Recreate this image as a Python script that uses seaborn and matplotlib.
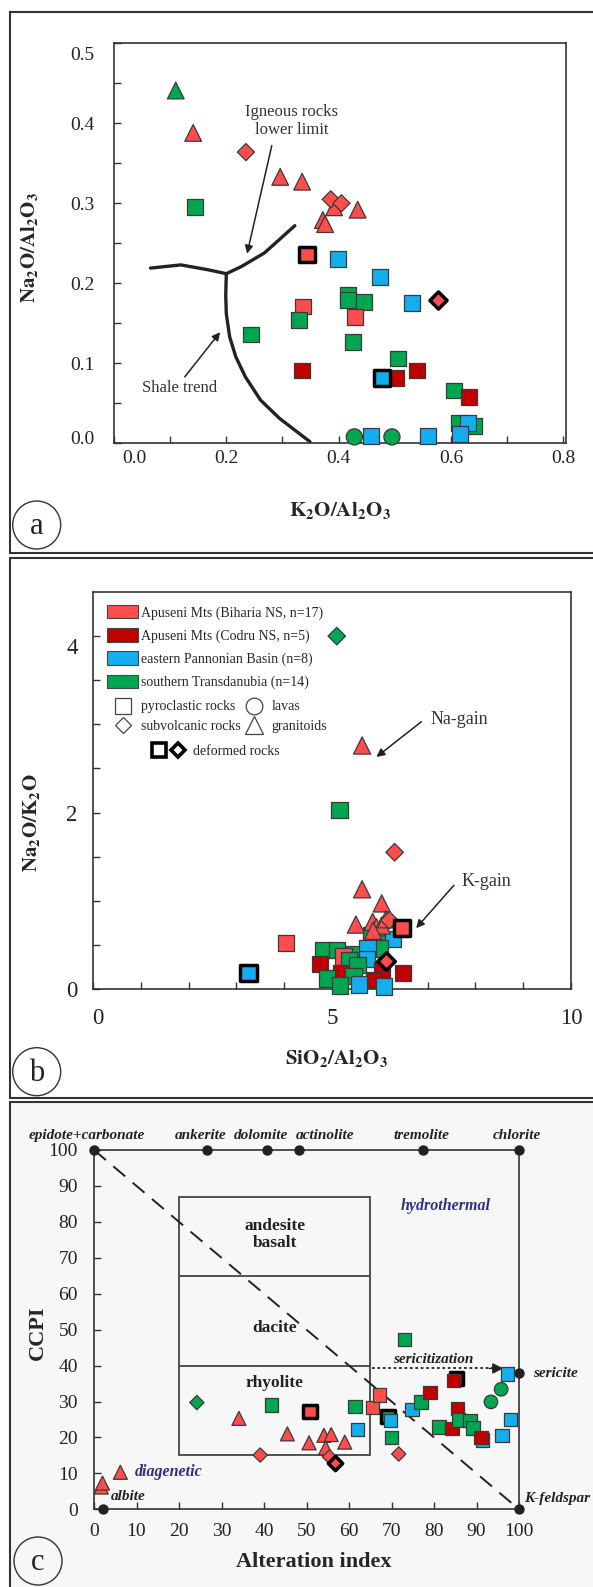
import pandas as pd
import matplotlib
matplotlib.use("Agg")
import matplotlib.pyplot as plt
import matplotlib.transforms as mtrans
import seaborn as sns
from matplotlib.patches import Rectangle, Ellipse, Patch
from matplotlib.lines import Line2D
from matplotlib.legend_handler import HandlerTuple

sns.set_style("ticks")
plt.rcParams["font.family"] = ["Liberation Serif", "DejaVu Serif"]
plt.rcParams["mathtext.fontset"] = "stix"

# groups: B = Biharia, C = Codru, P = Pannonian, T = Transdanubia
group_codes = ["B", "C", "P", "T"]
group_labels = ["Apuseni Mts (Biharia NS, n=17)", "Apuseni Mts (Codru NS, n=5)",
                "eastern Pannonian Basin (n=8)", "southern Transdanubia (n=14)"]
group_colors = ["#ff4d4d", "#c00000", "#14aeef", "#00a650"]
palette = dict(zip(group_codes, group_colors))

# rock types: p = pyroclastic, l = lava, v = subvolcanic, g = granitoid
marker_of = {"p": "s", "l": "o", "v": "D", "g": "^"}
size_of = {"p": 132, "l": 135, "v": 76, "g": 145}

# ---------------- panel a : Na2O/Al2O3 vs K2O/Al2O3 ----------------
a_k2o = [0.110, 0.141, 0.235, 0.296, 0.335, 0.392, 0.386, 0.405, 0.434, 0.372, 0.376,
         0.145, 0.343, 0.399, 0.474, 0.416, 0.416, 0.446, 0.337, 0.530, 0.577,
         0.329, 0.429, 0.244, 0.426, 0.506, 0.335, 0.540, 0.502, 0.478,
         0.606, 0.633, 0.614, 0.641, 0.631, 0.616, 0.458, 0.559, 0.428, 0.495]
a_na2o = [0.441, 0.388, 0.364, 0.333, 0.327, 0.295, 0.305, 0.300, 0.292, 0.279, 0.274,
          0.295, 0.236, 0.230, 0.208, 0.185, 0.179, 0.177, 0.171, 0.175, 0.179,
          0.154, 0.158, 0.136, 0.127, 0.106, 0.091, 0.091, 0.082, 0.082,
          0.066, 0.058, 0.025, 0.022, 0.025, 0.012, 0.009, 0.009, 0.008, 0.008]
a_group = ["T", "B", "B", "B", "B", "B", "B", "B", "B", "B", "B",
           "T", "B", "P", "P", "T", "T", "T", "B", "P", "B",
           "T", "B", "T", "T", "T", "C", "C", "C", "P",
           "T", "C", "T", "T", "P", "P", "P", "P", "T", "T"]
a_rock = ["g", "g", "v", "g", "g", "g", "v", "v", "g", "g", "g",
          "p", "p", "p", "p", "p", "p", "p", "p", "p", "v",
          "p", "p", "p", "p", "p", "p", "p", "p", "p",
          "p", "p", "p", "p", "p", "p", "p", "p", "l", "l"]
a_def = [0] * 40
a_def[12] = a_def[20] = a_def[29] = 1

igneous_x = [0.065, 0.119, 0.167, 0.200, 0.227, 0.268, 0.322]
igneous_y = [0.219, 0.223, 0.217, 0.212, 0.221, 0.238, 0.272]
shale_x = [0.200, 0.199, 0.200, 0.206, 0.217, 0.234, 0.261, 0.295, 0.349]
shale_y = [0.212, 0.185, 0.162, 0.133, 0.108, 0.083, 0.054, 0.031, 0.002]

# ---------------- panel b : Na2O/K2O vs SiO2/Al2O3 ----------------
b_si = [5.10, 5.63, 5.16, 6.31, 5.63, 6.04, 5.50, 5.85, 5.93, 6.04, 6.13, 6.20, 5.86,
        4.04, 5.83, 5.96, 6.27, 6.46, 4.82, 5.10, 5.45, 6.00, 5.74, 5.24, 5.73, 5.36,
        4.75, 5.53, 6.13, 5.19, 6.04, 6.49, 5.45, 4.90, 5.88, 5.17, 5.57, 6.09, 3.25]
b_nak = [4.00, 2.76, 2.03, 1.55, 1.13, 0.97, 0.73, 0.76, 0.70, 0.72, 0.79, 0.78, 0.66,
         0.52, 0.61, 0.59, 0.57, 0.69, 0.44, 0.44, 0.40, 0.46, 0.46, 0.37, 0.34, 0.33,
         0.28, 0.27, 0.32, 0.18, 0.21, 0.18, 0.15, 0.12, 0.10, 0.04, 0.05, 0.03, 0.18]
b_group = ["T", "B", "T", "B", "B", "B", "B", "B", "B", "B", "B", "B", "B",
           "B", "T", "T", "P", "B", "T", "T", "T", "T", "P", "B", "P", "T",
           "C", "T", "B", "C", "C", "C", "T", "T", "C", "T", "P", "P", "P"]
b_rock = ["v", "g", "p", "v", "g", "g", "g", "g", "g", "g", "g", "v", "g",
          "p", "p", "p", "p", "p", "p", "p", "p", "p", "p", "p", "p", "p",
          "p", "p", "v", "p", "p", "p", "p", "p", "p", "p", "p", "p", "p"]
b_def = [0] * 39
b_def[17] = b_def[28] = b_def[38] = 1

# ---------------- panel c : CCPI vs alteration index ----------------
c_ai = [24.2, 34.1, 41.8, 50.8, 45.5, 50.6, 54.1, 55.8, 54.5, 59.0, 55.4, 39.1, 56.7,
        61.4, 62.0, 65.6, 67.2, 69.2, 69.8, 70.0, 71.7, 73.1, 74.8, 76.9, 79.1, 81.2,
        85.3, 84.6, 84.2, 85.6, 85.8, 88.5, 89.2, 91.4, 91.1, 96.0, 98.0, 97.3,
        93.4, 95.8, 1.7, 2.0, 6.2]
c_ccpi = [29.7, 25.3, 29.0, 27.2, 21.0, 18.5, 20.6, 20.8, 17.1, 18.7, 14.6, 15.1, 12.8,
          28.6, 22.3, 28.4, 31.8, 25.9, 24.8, 20.0, 15.4, 47.2, 27.7, 29.9, 32.5, 22.9,
          36.4, 35.8, 22.5, 28.1, 24.9, 24.8, 22.6, 19.3, 20.0, 20.6, 25.0, 37.7,
          29.9, 33.4, 6.2, 7.3, 10.3]
c_group = ["T", "B", "T", "B", "B", "B", "B", "B", "B", "B", "B", "B", "B",
           "T", "P", "B", "B", "T", "P", "T", "B", "T", "P", "T", "C", "T",
           "C", "C", "C", "C", "T", "T", "T", "P", "C", "P", "P", "P",
           "T", "T", "B", "B", "B"]
c_rock = ["v", "g", "p", "p", "g", "g", "g", "g", "g", "g", "v", "v", "v",
          "p", "p", "p", "p", "p", "p", "p", "v", "p", "p", "p", "p", "p",
          "p", "p", "p", "p", "p", "p", "p", "p", "p", "p", "p", "p",
          "l", "l", "g", "g", "g"]
c_def = [0] * 43
c_def[3] = c_def[12] = c_def[17] = c_def[26] = 1

field_x = [20, 65]
field_y = [15, 87]
field_splits = [40, 65]
field_names = ["andesite\nbasalt", "dacite", "rhyolite"]
field_name_y = [76.5, 50.5, 35.2]
trend_x = [0, 100]
trend_y = [100, 0]
top_minerals = ["epidote+carbonate", "ankerite", "dolomite", "actinolite", "tremolite", "chlorite"]
top_mineral_x = [0, 26.7, 40.7, 48.2, 77.5, 100]
top_label_x = [-1.8, 25.0, 39.3, 54.4, 77.1, 99.5]
end_x = [2.1, 100, 100]
end_y = [0, 0, 37.9]

# ---------------- figure ----------------
W, H = 593, 1587
fig = plt.figure(figsize=(W / 100, H / 100), dpi=100)
EDGE = "#333333"


def box(l, t, r, b):
    return [l / W, 1 - b / H, (r - l) / W, (b - t) / H]


def shift(lbl, dx, dy):
    lbl.set_transform(lbl.get_transform() +
                      mtrans.ScaledTranslation(dx / 100, -dy / 100, fig.dpi_scale_trans))


for t, b, fc in [(11.7, 553.3, "white"), (557.7, 1098.3, "white"), (1102.3, 1620, "#f7f7f7")]:
    fig.patches.append(Rectangle((9.5 / W, 1 - b / H), 1.2, (b - t) / H, transform=fig.transFigure,
                                 facecolor=fc, edgecolor=EDGE, lw=1.5, zorder=-1))

for letter, cx, cy in [("a", 36.7, 525), ("b", 36.7, 1071.7), ("c", 38, 1561)]:
    fig.patches.append(Ellipse((cx / W, 1 - cy / H), 48 / W, 48 / H, transform=fig.transFigure,
                               fill=False, edgecolor=EDGE, lw=1.0, zorder=5))
    fig.text(cx / W, 1 - (cy + 2) / H, letter, ha="center", va="center", fontsize=22, color="#222")


def draw_points(ax, df, k=1.0, def_sq_behind=False):
    layers = [(r, 0) for r in ["p", "l", "g", "v"]] + [(r, 1) for r in ["p", "l", "g", "v"]]
    if def_sq_behind:
        layers = [("p", 1)] + [lay for lay in layers if lay != ("p", 1)]
    for rock, d in layers:
        sub = df[(df["rock"] == rock) & (df["deformed"] == d)]
        if sub.empty:
            continue
        sns.scatterplot(data=sub, x="x", y="y", hue="group", palette=palette,
                        marker=marker_of[rock], s=size_of[rock] * k,
                        edgecolor="black" if d else "#3a3a3a", linewidth=2.5 if d else 0.9,
                        legend=False, ax=ax, clip_on=False, zorder=3)


def style_axes(ax, size, xpad, ypad):
    ax.set_facecolor("none")
    for sp in ax.spines.values():
        sp.set_visible(True)
        sp.set_color(EDGE)
        sp.set_linewidth(1.2)
    ax.tick_params(which="both", direction="in", length=5, width=1, color=EDGE,
                   labelsize=size, labelcolor="#222", top=False, right=False)
    ax.tick_params(axis="x", which="both", pad=xpad)
    ax.tick_params(axis="y", which="both", pad=ypad)


# ---- panel a ----
axa = fig.add_axes(box(114, 43.3, 566, 443.3))
dfa = pd.DataFrame({"x": a_k2o, "y": a_na2o, "group": a_group, "rock": a_rock, "deformed": a_def})
axa.plot(igneous_x, igneous_y, color="#222", lw=2.4, solid_joinstyle="miter", zorder=2)
axa.plot(shale_x, shale_y, color="#222", lw=2.4, zorder=2)
draw_points(axa, dfa)
axa.set_xlim(0, 0.805)
axa.set_ylim(0, 0.5)
axa.set_xticks([0, 0.2, 0.4, 0.6, 0.8])
axa.set_xticklabels(["0.0", "0.2", "0.4", "0.6", "0.8"])
axa.set_xticks([0.1, 0.3, 0.5, 0.7], minor=True)
axa.set_yticks([0, 0.1, 0.2, 0.3, 0.4, 0.5])
axa.set_yticklabels(["0.0", "0.1", "0.2", "0.3", "0.4", "0.5"])
axa.set_yticks([0.05, 0.15, 0.25, 0.35, 0.45], minor=True)
style_axes(axa, 14, 4.5, 14)
shift(axa.get_xticklabels()[0], 20, 0)
shift(axa.get_yticklabels()[0], 0, -6)
shift(axa.get_yticklabels()[-1], 0, 10)
axa.set_xlabel(r"$\mathbf{K_2O/Al_2O_3}$", fontsize=15)
axa.set_ylabel(r"$\mathbf{Na_2O/Al_2O_3}$", fontsize=15)
axa.xaxis.set_label_coords(0.5, -0.168)
axa.yaxis.set_label_coords(-0.186, 0.49)
axa.xaxis.label.set_va("center")
axa.yaxis.label.set_va("center")
axa.text(0.317, 0.403, "Igneous rocks\nlower limit", ha="center", va="center",
         fontsize=12, color="#333", linespacing=1.1)
axa.text(0.116, 0.069, "Shale trend", ha="center", va="center", fontsize=12, color="#333")
arrow = dict(arrowstyle="-|>", color="#222", lw=1.1, mutation_scale=12, shrinkA=0, shrinkB=0)
axa.annotate("", xy=(0.237, 0.237), xytext=(0.281, 0.372), arrowprops=arrow)
axa.annotate("", xy=(0.189, 0.139), xytext=(0.126, 0.083), arrowprops=arrow)

# ---- panel b ----
axb = fig.add_axes(box(93, 592, 571, 989))
dfb = pd.DataFrame({"x": b_si, "y": b_nak, "group": b_group, "rock": b_rock, "deformed": b_def})
draw_points(axb, dfb, k=1.05)
axb.set_xlim(0, 10)
axb.set_ylim(0, 4.5)
axb.set_xticks([0, 5, 10])
axb.set_xticks([1, 2, 3, 4, 6, 7, 8, 9], minor=True)
axb.set_yticks([0, 2, 4])
axb.set_yticks([0.5, 1, 1.5, 2.5, 3, 3.5], minor=True)
style_axes(axb, 16.5, 14, 11)
shift(axb.get_yticklabels()[-1], 0, 10)
shift(axb.get_xticklabels()[0], 5, 0)
axb.set_xlabel(r"$\mathbf{SiO_2/Al_2O_3}$", fontsize=15)
axb.set_ylabel(r"$\mathbf{Na_2O/K_2O}$", fontsize=15)
axb.xaxis.set_label_coords(0.51, -0.174)
axb.yaxis.set_label_coords(-0.128, 0.42)
axb.xaxis.label.set_va("center")
axb.yaxis.label.set_va("center")
axb.text(7.07, 3.06, "Na-gain", ha="left", va="center", fontsize=13, color="#333")
axb.text(7.71, 1.22, "K-gain", ha="left", va="center", fontsize=13, color="#333")
axb.annotate("", xy=(5.93, 2.63), xytext=(6.87, 3.03), arrowprops=arrow)
axb.annotate("", xy=(6.76, 0.69), xytext=(7.55, 1.175), arrowprops=arrow)

leg_kw = dict(loc="upper left", frameon=False, fontsize=10, borderpad=0, borderaxespad=0)
h1 = [Patch(facecolor=c, edgecolor="#444", lw=0.8) for c in group_colors]
leg1 = axb.legend(h1, group_labels, bbox_to_anchor=(0.029, 0.967), handlelength=2.25,
                  handleheight=1.1, handletextpad=0.2, labelspacing=0.62, **leg_kw)
axb.add_artist(leg1)


def open_marker(m, ms, mew=0.9, mec="#444"):
    return Line2D([], [], ls="none", marker=m, ms=ms, mfc="white", mec=mec, mew=mew)


h2 = [open_marker("s", 11), open_marker("D", 8), open_marker("o", 12), open_marker("^", 12.5)]
l2 = ["pyroclastic rocks", "subvolcanic rocks", "lavas", "granitoids"]
leg2 = axb.legend(h2, l2, ncol=2, bbox_to_anchor=(0.04, 0.727), handlelength=1.6,
                  handletextpad=0.45, columnspacing=0.2, labelspacing=0.5, **leg_kw)
axb.add_artist(leg2)
h3 = [(open_marker("s", 10, 2.6, "black"), open_marker("D", 7.5, 2.6, "black"))]
axb.legend(h3, ["deformed rocks"], bbox_to_anchor=(0.119, 0.614), handlelength=2.7,
           handletextpad=0.4, handler_map={tuple: HandlerTuple(ndivide=None, pad=0)}, **leg_kw)

# ---- panel c ----
axc = fig.add_axes(box(94, 1150, 519, 1509.3))
dfc = pd.DataFrame({"x": c_ai, "y": c_ccpi, "group": c_group, "rock": c_rock, "deformed": c_def})
axc.add_patch(Rectangle((field_x[0], field_y[0]), field_x[1] - field_x[0], field_y[1] - field_y[0],
                        fill=False, edgecolor="#444", lw=1.3, zorder=1))
axc.hlines(field_splits, field_x[0], field_x[1], color="#444", lw=1.3, zorder=1)
for name, ny in zip(field_names, field_name_y):
    axc.text(sum(field_x) / 2, ny, name, ha="center", va="center", fontsize=12.5,
             fontweight="bold", color="#222", linespacing=1.1)
axc.plot(trend_x, trend_y, color="#222", lw=1.4, dashes=(8, 5), zorder=2)
axc.plot([65.3, 94], [39.2, 39.2], color="#222", lw=1.3, ls=(0, (1.5, 1.5)), zorder=2)
axc.annotate("", xy=(96.3, 39.2), xytext=(93, 39.2),
             arrowprops=dict(arrowstyle="-|>", color="#222", lw=1, mutation_scale=16,
                             shrinkA=0, shrinkB=0))
draw_points(axc, dfc, k=0.7, def_sq_behind=True)
axc.scatter(top_mineral_x, [100] * len(top_mineral_x), s=42, color="#222", clip_on=False, zorder=4)
axc.scatter(end_x, end_y, s=42, color="#222", clip_on=False, zorder=4)
lab_kw = dict(fontsize=11, fontweight="bold", style="italic", color="#222")
for name, lx in zip(top_minerals, top_label_x):
    axc.text(lx, 104.1, name, ha="center", va="center", **lab_kw)
axc.text(101.2, 2.9, "K-feldspar", ha="left", va="center", **lab_kw)
axc.text(103.3, 37.7, "sericite", ha="left", va="center", **lab_kw)
axc.text(8.0, 3.6, "albite", ha="center", va="center", **lab_kw)
axc.text(79.8, 41.6, "sericitization", ha="center", va="center", **lab_kw)
axc.text(82.8, 84.3, "hydrothermal", ha="center", va="center", fontsize=11.5,
         fontweight="bold", style="italic", color="#2e2e88")
axc.text(17.5, 10.5, "diagenetic", ha="center", va="center", fontsize=11.5,
         fontweight="bold", style="italic", color="#2e2e88")
axc.set_xlim(0, 100)
axc.set_ylim(0, 100)
axc.set_xticks(range(0, 101, 10))
axc.set_yticks(range(0, 101, 10))
style_axes(axc, 14, 10, 11.5)
axc.set_xlabel("Alteration index", fontsize=16, fontweight="bold")
axc.set_ylabel("CCPI", fontsize=16, fontweight="bold")
axc.xaxis.set_label_coords(0.518, -0.147)
axc.yaxis.set_label_coords(-0.131, 0.49)
axc.xaxis.label.set_va("center")
axc.yaxis.label.set_va("center")

fig.savefig("out.png", dpi=100)
